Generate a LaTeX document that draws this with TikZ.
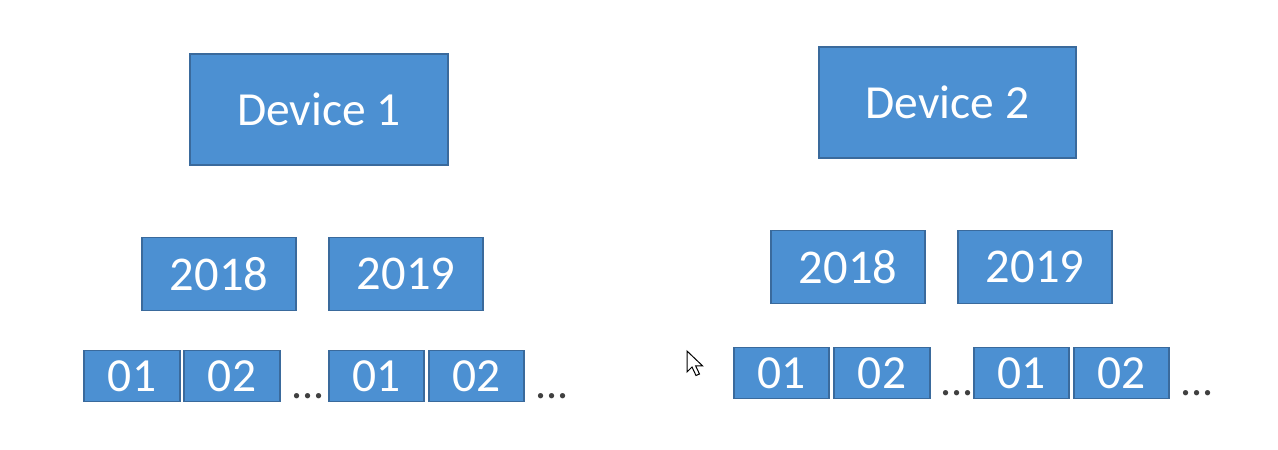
\documentclass[tikz,border=0pt]{standalone}
\usepackage{fontspec}
\setmainfont{Carlito}
\definecolor{boxfill}{RGB}{76,144,210}
\definecolor{boxline}{RGB}{58,106,156}
\definecolor{dotcol}{RGB}{64,64,64}
\begin{document}
\begin{tikzpicture}[x=1pt,y=-1pt,
  blk/.style={draw=boxline,fill=boxfill,line width=1.6pt,text=white,inner sep=0pt,font=\fontsize{#1}{#1}\selectfont},
  dots/.style={text=dotcol,inner sep=0pt,anchor=base,font=\fontsize{44}{44}\selectfont}]
\fill[white] (0,0) rectangle (1278,450);
\useasboundingbox (0,0) rectangle (1278,450);
% devices
\node[blk=47.5,minimum width=258pt,minimum height=111pt] (d1) at (319,109.5) {Device 1};
\node[blk=47.5,minimum width=257pt,minimum height=111pt] (d2) at (947.5,102.5) {Device 2};
% years
\node[blk=48.5,minimum width=154pt,minimum height=73pt] (y1a) at (219,274) {2018};
\node[blk=48.5,minimum width=154pt,minimum height=73pt] (y1b) at (406,274) {2019};
\node[blk=48.5,minimum width=154pt,minimum height=73pt] (y2a) at (848,267) {2018};
\node[blk=48.5,minimum width=154pt,minimum height=73pt] (y2b) at (1035,267) {2019};
% months left
\node[blk=47.5,minimum width=96pt,minimum height=51pt] (m1) at (132,376) {01};
\node[blk=47.5,minimum width=96pt,minimum height=51pt] (m2) at (232,376) {02};
\node[blk=47.5,minimum width=95pt,minimum height=51pt] (m3) at (376.5,376) {01};
\node[blk=47.5,minimum width=95pt,minimum height=51pt] (m4) at (476.5,376) {02};
\node[dots] (e1) at (308,398) {...};
\node[dots] (e2) at (552,398) {...};
% months right
\node[blk=47.5,minimum width=95pt,minimum height=51pt] (n1) at (781.5,373) {01};
\node[blk=47.5,minimum width=96pt,minimum height=51pt] (n2) at (882,373) {02};
\node[blk=47.5,minimum width=95pt,minimum height=51pt] (n3) at (1021.5,373) {01};
\node[blk=47.5,minimum width=95pt,minimum height=51pt] (n4) at (1121.5,373) {02};
\node[dots] (e3) at (957,395) {...};
\node[dots] (e4) at (1197,395) {...};
% cursor
\draw[black,fill=white,line width=1pt,line join=miter]
  (687,351) -- (687,372) -- (692,367) -- (696,375.5) -- (699.5,374) -- (695.6,365.8) -- (702.5,365.8) -- cycle;
\end{tikzpicture}
\end{document}
